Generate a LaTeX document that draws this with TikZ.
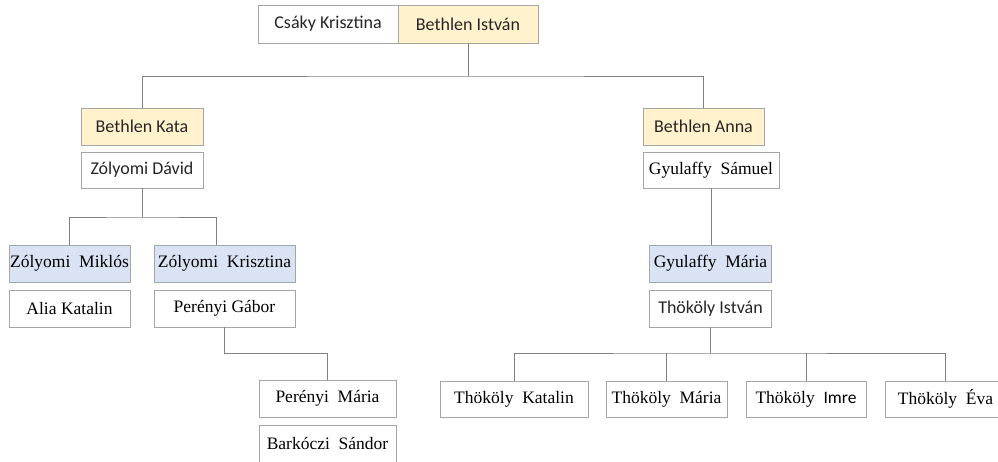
\documentclass[tikz,border=0pt]{standalone}
\usepackage{fontspec}
\setmainfont{Liberation Serif}
\setsansfont{Carlito}
\usetikzlibrary{calc,positioning}
\definecolor{boxgray}{HTML}{A6A6A6}
\definecolor{linegray}{HTML}{808080}
\definecolor{textgray}{HTML}{262626}
\definecolor{bethlenyellow}{HTML}{FFF2CC}
\definecolor{heirblue}{HTML}{DAE3F3}
\begin{document}
\begin{tikzpicture}[x=1pt,y=-1pt,
      person/.style = {draw=boxgray, line width=.8pt, fill=white, minimum height=37pt,
        inner sep=0pt, text=black, font=\fontsize{17.5}{20}\selectfont},
      sans/.style = {person, text=textgray, font=\sffamily\fontsize{18}{20}\selectfont},
      bethlen/.style = {fill=bethlenyellow},
      heir/.style = {fill=heirblue},
      link/.style = {draw=linegray, line width=.8pt}]
    \clip (0,0) rectangle (998,461);
    \node [sans, minimum width=140pt, minimum height=38pt] (csaky) at (328,24) {Csáky Krisztina};
    \node [sans, bethlen, minimum width=140pt, minimum height=38pt] (istvan) at (468,24) {Bethlen István};
    \node [sans, bethlen, minimum width=122pt] (kata) at (142,126.5) {Bethlen Kata};
    \node [sans, minimum width=122pt, minimum height=36pt] (david) at (142,170) {Zólyomi Dávid};
    \node [person, heir, minimum width=121pt] (miklos) at (69.5,263.5) {Zólyomi\ \ Miklós};
    \node [person, heir, minimum width=141pt] (krisztina) at (224.5,263.5) {Zólyomi\ \ Krisztina};
    \node [person, minimum width=121pt] (alia) at (69.5,308.5) {Alia Katalin};
    \node [person, minimum width=141pt] (gabor) at (224.5,308.5) {Perényi Gábor};
    \node [person, minimum width=137pt] (pmaria) at (327.5,398.5) {Perényi\ \ Mária};
    \node [person, minimum width=137pt] (sandor) at (327.5,443.5) {Barkóczi\ \ Sándor};
    \node [sans, bethlen, minimum width=121pt] (anna) at (703.5,126.5) {Bethlen Anna};
    \node [person, minimum width=136pt, minimum height=36pt] (samuel) at (711,170) {Gyulaffy\ \ Sámuel};
    \node [person, heir, minimum width=122pt] (gymaria) at (710.5,263.5) {Gyulaffy\ \ Mária};
    \node [sans, minimum width=122pt] (tistvan) at (710.5,308.5) {Thököly István};
    \node [person, minimum width=148pt, minimum height=36pt] (tkatalin) at (514,399) {Thököly\ \ Katalin};
    \node [person, minimum width=121pt, minimum height=36pt] (tmaria) at (666.5,399) {Thököly\ \ Mária};
    \node [person, minimum width=120pt, minimum height=36pt] (timre) at (806,399) {Thököly\ \ {\sffamily Imre}};
    \node [person, minimum width=121pt, minimum height=36pt] (teva) at (945.5,399) {Thököly\ \ Éva};
    \coordinate (topbus) at (0,76);
    \coordinate (zbus) at (0,217);
    \coordinate (tbus) at (0,353);
    \draw [link] (istvan.south) -- (istvan.south |- topbus);
    \draw [link] (kata.north) |- (istvan.south |- topbus) -| (anna.north);
    \draw [link] (david.south) -- (david.south |- zbus);
    \draw [link] (miklos.north) |- (david.south |- zbus) -| ([xshift=-8pt]krisztina.north);
    \draw [link] (gabor.south) |- (pmaria.north |- tbus) -- (pmaria.north);
    \draw [link] (samuel.south) -- (samuel.south |- gymaria.north);
    \draw [link] (tistvan.south) -- (tistvan.south |- tbus);
    \draw [link] (tkatalin.north) |- (tistvan.south |- tbus) -| (teva.north);
    \draw [link] (tmaria.north) -- (tmaria.north |- tbus);
    \draw [link] (timre.north) -- (timre.north |- tbus);
\end{tikzpicture}
\end{document}
